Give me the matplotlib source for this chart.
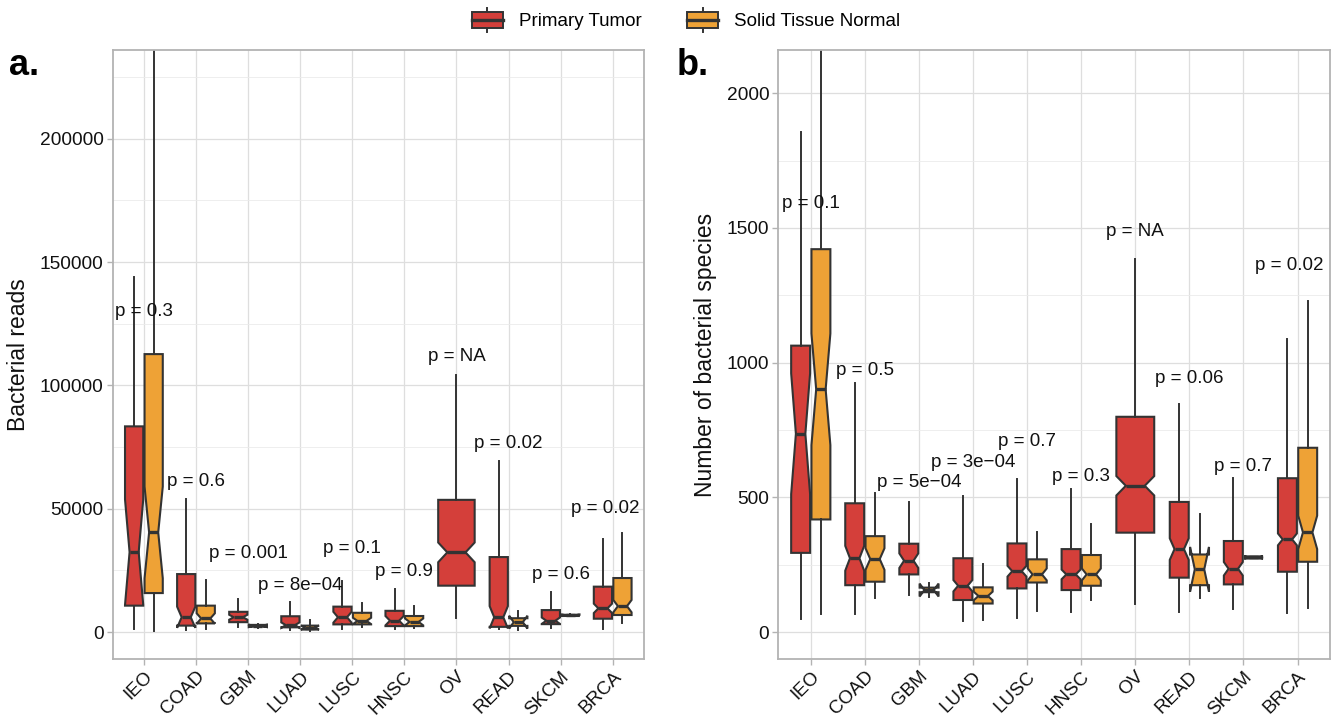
import matplotlib.pyplot as plt
from matplotlib.legend_handler import HandlerBase
from matplotlib.patches import Patch, Rectangle
from matplotlib.lines import Line2D
from matplotlib.ticker import FixedLocator, FuncFormatter

plt.rcParams['font.family'] = ['Liberation Sans', 'DejaVu Sans']

cancers = ['IEO', 'COAD', 'GBM', 'LUAD', 'LUSC', 'HNSC', 'OV', 'READ', 'SKCM', 'BRCA']

# box stats per cancer: (whisker low, q1, notch low, median, notch high, q3, whisker high)
reads_tumor = [
    (1300, 10700, 11000, 32400, 53800, 83400, 144100),
    (800, 2600, 1700, 6000, 10300, 23500, 53800),
    (2100, 4000, 5000, 6000, 7000, 8200, 13500),
    (800, 1900, 1700, 2800, 3900, 6400, 12200),
    (1100, 3100, 3800, 6000, 8200, 10300, 20600),
    (1300, 2400, 2700, 4600, 6500, 8600, 17300),
    (5800, 18800, 28300, 32300, 36300, 53600, 104200),
    (1300, 2100, 1500, 6000, 10500, 30400, 69300),
    (1600, 3200, 3300, 4600, 5900, 8900, 16100),
    (1300, 5400, 7700, 9600, 11500, 18400, 37600),
]
reads_normal = [
    (500, 15800, 21800, 40400, 59000, 112700, 260000),
    (1100, 3500, 3400, 5500, 7600, 10700, 21100),
    (1800, 2200, 2000, 2500, 3000, 2900, 3200),
    (300, 1000, 1000, 1800, 2600, 2600, 4900),
    (1900, 3100, 3200, 4500, 5800, 7800, 11900),
    (1600, 2400, 2700, 4100, 5500, 6500, 10700),
    None,
    (1000, 2500, 1400, 4000, 6600, 5600, 8600),
    (6300, 6500, 6500, 6800, 7100, 7000, 7300),
    (3800, 6900, 8000, 10500, 13000, 21900, 40300),
]
reads_p = ['0.3', '0.6', '0.001', '8e\u221204', '0.1', '0.9', 'NA', '0.02', '0.6', '0.02']
reads_label_y = [129900, 60900, 31900, 18800, 33700, 24500, 111900, 76500, 23400, 50200]

species_tumor = [
    (47, 294, 512, 736, 960, 1063, 1857),
    (67, 174, 228, 274, 320, 478, 923),
    (136, 214, 238, 265, 292, 328, 484),
    (41, 119, 151, 172, 193, 274, 505),
    (53, 162, 206, 226, 246, 329, 567),
    (74, 156, 196, 214, 232, 308, 531),
    (104, 369, 507, 543, 579, 799, 1385),
    (74, 202, 268, 308, 348, 483, 845),
    (87, 177, 210, 235, 260, 338, 571),
    (72, 224, 322, 344, 366, 571, 1088),
]
species_normal = [
    (66, 418, 694, 901, 1108, 1421, 2400),
    (125, 187, 231, 271, 311, 356, 515),
    (131, 148, 132, 156, 180, 165, 183),
    (45, 106, 118, 134, 150, 166, 252),
    (79, 184, 192, 214, 236, 270, 372),
    (119, 172, 192, 214, 236, 286, 401),
    None,
    (127, 174, 150, 233, 316, 288, 437),
    (270, 273, 273, 277, 281, 281, 284),
    (88, 261, 308, 370, 432, 684, 1230),
]
species_p = ['0.1', '0.5', '5e\u221204', '3e\u221204', '0.7', '0.3', 'NA', '0.06', '0.7', '0.02']
species_label_y = [1592, 970, 554, 628, 709, 577, 1486, 942, 614, 1360]

tumor_color = '#D43F3A'
normal_color = '#EEA236'
edge = '#333333'
txt = '#111111'


def to_stats(row):
    lo, q1, cilo, med, cihi, q3, hi = row
    return dict(whislo=lo, q1=q1, cilo=cilo, med=med, cihi=cihi,
                q3=q3, whishi=hi, fliers=[])


def draw_panel(ax, tumor, normal, pvals, label_y, ylim, major, minor, ylabel):
    for rows, color, side in ((tumor, tumor_color, -1), (normal, normal_color, 1)):
        pos, widths, stats = [], [], []
        for i, row in enumerate(rows):
            if row is None:
                continue
            paired = tumor[i] is not None and normal[i] is not None
            pos.append(i + side * 0.1875 if paired else i)
            widths.append(0.35 if paired else 0.7)
            stats.append(to_stats(row))
        ax.bxp(stats, positions=pos, widths=widths, shownotches=True,
               patch_artist=True, showcaps=False, showfliers=False,
               manage_ticks=False,
               boxprops=dict(facecolor=color, edgecolor=edge, linewidth=1.5),
               medianprops=dict(color=edge, linewidth=2.4, solid_capstyle='butt'),
               whiskerprops=dict(color=edge, linewidth=1.4))

    n = len(pvals)
    for i, (p, y) in enumerate(zip(pvals, label_y)):
        x = i - 0.15 if i == n - 1 else i
        ax.text(x, y, f'p = {p}', ha='center', va='center', fontsize=13.5, color=txt)

    ax.set_xlim(-0.6, n - 0.4)
    ax.set_ylim(*ylim)
    ax.set_xticks(range(n))
    ax.set_xticklabels(cancers, rotation=45, ha='right', va='top',
                       rotation_mode='anchor', fontsize=13.5)
    ax.set_yticks(major)
    ax.yaxis.set_major_formatter(FuncFormatter(lambda v, _: f'{int(v)}'))
    ax.yaxis.set_minor_locator(FixedLocator(minor))
    ax.tick_params(which='major', length=4, width=1, color='#B3B3B3',
                   labelcolor=txt, pad=2.5)
    ax.tick_params(axis='y', labelsize=13.8)
    ax.tick_params(which='minor', length=0)
    ax.set_ylabel(ylabel, fontsize=16.5, color=txt, labelpad=7)
    ax.grid(True, which='major', color='#DEDEDE', linewidth=0.9)
    ax.grid(True, which='minor', axis='y', color='#EBEBEB', linewidth=0.6)
    ax.set_axisbelow(True)
    for s in ax.spines.values():
        s.set_color('#B3B3B3')
        s.set_linewidth(1.3)


class BoxKey(HandlerBase):
    def create_artists(self, legend, orig_handle, xdescent, ydescent,
                       width, height, fontsize, trans):
        x0, y0 = -xdescent, -ydescent
        cx = x0 + width / 2
        whisker = Line2D([cx, cx], [y0, y0 + height], color=edge, lw=1.4,
                         transform=trans)
        box = Rectangle((x0, y0 + height * 0.17), width, height * 0.66,
                        facecolor=orig_handle.get_facecolor(), edgecolor=edge,
                        lw=1.4, transform=trans)
        med = Line2D([x0, x0 + width], [y0 + height / 2] * 2, color=edge,
                     lw=2.4, transform=trans)
        return [whisker, box, med]


fig = plt.figure(figsize=(13.41, 7.19), dpi=100)
ax_a = fig.add_axes([0.0840, 0.0834, 0.3962, 0.847])
ax_b = fig.add_axes([0.5804, 0.0834, 0.4114, 0.847])

draw_panel(ax_a, reads_tumor, reads_normal, reads_p, reads_label_y,
           (-10950, 236000), [0, 50000, 100000, 150000, 200000],
           [25000, 75000, 125000, 175000, 225000], 'Bacterial reads')
draw_panel(ax_b, species_tumor, species_normal, species_p, species_label_y,
           (-100, 2160), [0, 500, 1000, 1500, 2000],
           [250, 750, 1250, 1750], 'Number of bacterial species')

fig.text(9 / 1341, 1 - 75 / 719, 'a.', fontsize=26, fontweight='bold', va='baseline')
fig.text(677 / 1341, 1 - 75 / 719, 'b.', fontsize=26, fontweight='bold', va='baseline')

fig.legend(handles=[Patch(facecolor=tumor_color), Patch(facecolor=normal_color)],
           labels=['Primary Tumor', 'Solid Tissue Normal'],
           handler_map={Patch: BoxKey()}, loc='center',
           bbox_to_anchor=(686 / 1341, 1 - 20 / 719), ncol=2, frameon=False,
           fontsize=13.5, handlelength=1.65, handleheight=1.6,
           handletextpad=0.85, columnspacing=2.45, borderpad=0, borderaxespad=0)

fig.savefig('out.png', dpi=100)
